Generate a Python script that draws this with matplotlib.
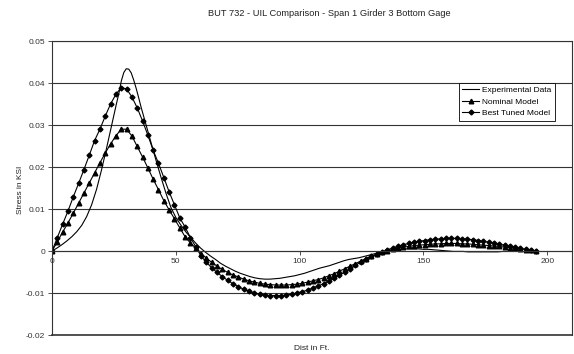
import matplotlib
matplotlib.use("Agg")
import matplotlib.pyplot as plt

plt.rcParams['font.family'] = ['Liberation Sans', 'DejaVu Sans']

title = "BUT 732 - UIL Comparison - Span 1 Girder 3 Bottom Gage"
xlabel = "Dist in Ft."
ylabel = "Stress in KSI"
series_names = ["Experimental Data", "Nominal Model", "Best Tuned Model"]

xticks = [0, 50, 100, 150, 200]
yticks = [-0.02, -0.01, 0, 0.01, 0.02, 0.03, 0.04, 0.05]
ytick_labels = ["-0.02", "-0.01", "0", "0.01", "0.02", "0.03", "0.04", "0.05"]

# Model load positions (ft)
model_x = [0, 2.15, 4.3, 6.45, 8.6, 10.75, 12.9, 15.05, 17.2, 19.35,
           21.5, 23.65, 25.8, 27.95, 30.1, 32.25, 34.4, 36.55, 38.7, 40.85,
           43.0, 45.15, 47.3, 49.45, 51.6, 53.75, 55.9, 58.05, 60.2, 62.35,
           64.5, 66.65, 68.8, 70.95, 73.1, 75.25, 77.4, 79.55, 81.7, 83.85,
           86.0, 88.15, 90.3, 92.45, 94.6, 96.75, 98.9, 101.05, 103.2, 105.35,
           107.5, 109.65, 111.8, 113.95, 116.1, 118.25, 120.4, 122.55, 124.7, 126.85,
           129.0, 131.15, 133.3, 135.45, 137.6, 139.75, 141.9, 144.05, 146.2, 148.35,
           150.5, 152.65, 154.8, 156.95, 159.1, 161.25, 163.4, 165.55, 167.7, 169.85,
           172.0, 174.15, 176.3, 178.45, 180.6, 182.75, 184.9, 187.05, 189.2, 191.35,
           193.5, 195.65]

nominal = [0, 0.0022, 0.0045, 0.0067, 0.009, 0.0114, 0.0138, 0.0162, 0.0186, 0.021,
           0.0233, 0.0255, 0.0274, 0.029, 0.029, 0.0274, 0.0249, 0.0224, 0.0198, 0.0171,
           0.0146, 0.012, 0.0098, 0.0077, 0.0055, 0.0034, 0.0019, 0.0007, -0.0006, -0.0017,
           -0.0027, -0.0036, -0.0044, -0.0051, -0.0057, -0.0062, -0.0067, -0.0071, -0.0074, -0.0077,
           -0.0079, -0.0080, -0.0081, -0.0081, -0.0081, -0.0080, -0.0079, -0.0077, -0.0074, -0.0071,
           -0.0068, -0.0064, -0.0059, -0.0054, -0.0048, -0.0042, -0.0036, -0.0030, -0.0024, -0.0018,
           -0.0013, -0.0008, -0.0003, 0.0001, 0.0004, 0.0007, 0.0009, 0.0011, 0.0013, 0.0014,
           0.0015, 0.0016, 0.0017, 0.0017, 0.0018, 0.0018, 0.0018, 0.0017, 0.0017, 0.0016,
           0.0015, 0.0014, 0.0013, 0.0012, 0.0011, 0.0009, 0.0008, 0.0006, 0.0005, 0.0003,
           0.0002, 0.0]

best_tuned = [0, 0.0032, 0.0064, 0.0095, 0.0129, 0.0161, 0.0194, 0.0228, 0.0263, 0.029,
              0.0321, 0.035, 0.0373, 0.0389, 0.0386, 0.0367, 0.0341, 0.031, 0.0276, 0.024,
              0.0209, 0.0175, 0.0141, 0.011, 0.0079, 0.0057, 0.0032, 0.001, -0.0012, -0.0027,
              -0.0040, -0.0051, -0.0061, -0.0070, -0.0078, -0.0085, -0.0091, -0.0096, -0.0100, -0.0103,
              -0.0105, -0.0106, -0.0106, -0.0106, -0.0105, -0.0103, -0.0100, -0.0097, -0.0093, -0.0088,
              -0.0083, -0.0078, -0.0072, -0.0065, -0.0058, -0.0050, -0.0042, -0.0034, -0.0026, -0.0019,
              -0.0013, -0.0007, -0.0002, 0.0003, 0.0007, 0.0011, 0.0015, 0.0018, 0.0021, 0.0023,
              0.0025, 0.0027, 0.0028, 0.0029, 0.0030, 0.0030, 0.0030, 0.0029, 0.0028, 0.0027,
              0.0025, 0.0023, 0.0021, 0.0019, 0.0016, 0.0014, 0.0011, 0.0009, 0.0006, 0.0004,
              0.0002, 0.0]

exp_x = [0, 2, 4, 6, 8, 10, 12, 14, 16, 18, 20, 22, 24, 26, 27, 28, 29, 30, 31, 32,
         33, 34, 35, 36, 38, 40, 42, 44, 46, 48, 50, 52, 54, 56, 58, 60, 62, 64, 66, 68,
         70, 72, 74, 76, 78, 80, 82, 84, 86, 88, 90, 92, 94, 96, 98, 100, 102, 104, 106, 108,
         110, 112, 114, 116, 118, 120, 122, 124, 126, 128, 130, 132, 134, 136, 138, 140, 142, 144, 146, 148,
         150, 152, 154, 156, 158, 160, 162, 164, 166, 168, 170, 172, 174, 176, 178, 180, 182, 184, 186, 188, 190]

experimental = [0, 0.0007, 0.0015, 0.0024, 0.0034, 0.0046, 0.0061, 0.0082, 0.0110, 0.0147,
                0.0193, 0.0244, 0.0297, 0.0350, 0.0375, 0.0405, 0.0425, 0.0434, 0.0433, 0.0424,
                0.0407, 0.0387, 0.0365, 0.0342, 0.0300, 0.0258, 0.0216, 0.0176, 0.0138, 0.0104,
                0.0080, 0.0062, 0.0046, 0.0032, 0.0019, 0.0007, -0.0003, -0.0012, -0.0020, -0.0029,
                -0.0036, -0.0042, -0.0048, -0.0053, -0.0057, -0.0061, -0.0064, -0.0066, -0.0067, -0.0067,
                -0.0066, -0.0065, -0.0063, -0.0061, -0.0059, -0.0056, -0.0053, -0.0049, -0.0045, -0.0041,
                -0.0038, -0.0035, -0.0031, -0.0027, -0.0023, -0.0020, -0.0018, -0.0016, -0.0013, -0.0010,
                -0.0007, -0.0004, -0.0002, 0.0, 0.0002, 0.0004, 0.0005, 0.0005, 0.0005, 0.0005,
                0.0004, 0.0004, 0.0003, 0.0002, 0.0001, 0.0, -0.0001, -0.0001, -0.0001, -0.0002,
                -0.0002, -0.0002, -0.0002, -0.0002, -0.0002, -0.0002, -0.0001, -0.0001, -0.0001, 0.0, 0.0]

fig = plt.figure(figsize=(5.74, 3.54), dpi=100)
ax = fig.add_axes([52/574, 19/354, 520/574, 294/354])

ax.plot(exp_x, experimental, color='black', lw=0.8, label=series_names[0])
ax.plot(model_x, nominal, color='black', lw=0.8, marker='^', ms=3.3, label=series_names[1])
ax.plot(model_x, best_tuned, color='black', lw=0.8, marker='D', ms=2.5, label=series_names[2])

ax.set_xlim(0, 210)
ax.set_ylim(-0.02, 0.05)
ax.set_xticks(xticks)
ax.set_xticklabels([str(v) for v in xticks])
ax.set_yticks(yticks)
ax.set_yticklabels(ytick_labels)

ax.yaxis.grid(True, color='#333333', lw=0.8)
ax.set_axisbelow(True)

ax.spines['bottom'].set_position(('data', 0))
for s in ['bottom', 'left', 'top', 'right']:
    ax.spines[s].set_color('#333333')
    ax.spines[s].set_linewidth(0.8)
ax.axhline(-0.02, color='#333333', lw=1.2, clip_on=False, zorder=0)

ax.tick_params(axis='both', labelsize=6, colors='#333333', length=3, width=0.6, direction='out', pad=2)

fig.text(329/574, 1 - 13/354, title, ha='center', va='center', fontsize=6.7, color='#222222')
fig.text(20/574, 1 - 190/354, ylabel, ha='center', va='center', rotation=90, fontsize=6, color='#222222')
fig.text(312/574, 1 - 348/354, xlabel, ha='center', va='center', fontsize=6, color='#222222')

leg = ax.legend(loc='upper left', bbox_to_anchor=(459/574, 1 - 83/354), bbox_transform=fig.transFigure,
                fontsize=6, frameon=True, fancybox=False, edgecolor='black', framealpha=1,
                borderpad=0.4, labelspacing=0.45, handlelength=2.0, handletextpad=0.4, borderaxespad=0)
leg.get_frame().set_linewidth(0.6)

fig.savefig("out.png", dpi=100)
